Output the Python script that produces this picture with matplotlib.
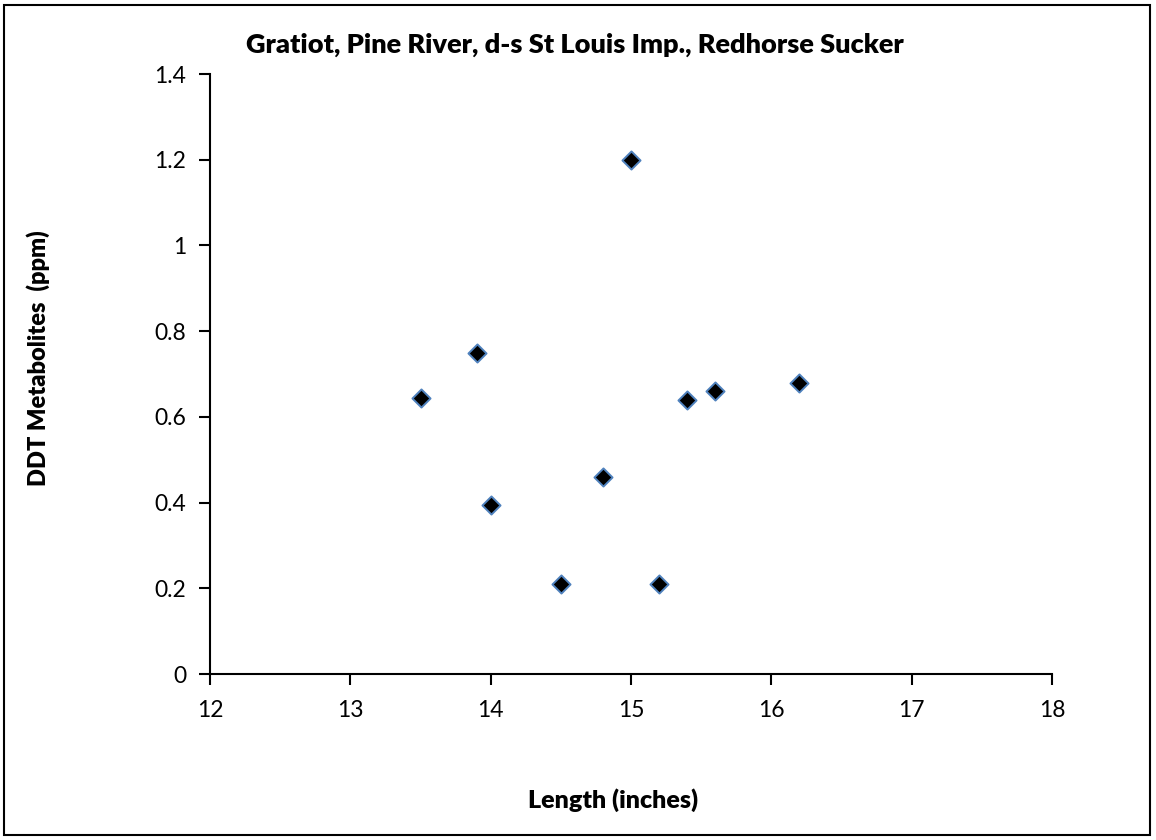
import matplotlib.pyplot as plt
from matplotlib.patches import Rectangle

length = [13.5, 13.9, 14.0, 14.5, 14.8, 15.0, 15.2, 15.4, 15.6, 16.2]
ddt = [0.645, 0.75, 0.395, 0.21, 0.46, 1.2, 0.21, 0.64, 0.66, 0.68]

x_ticks = [12, 13, 14, 15, 16, 17, 18]
y_ticks = [0, 0.2, 0.4, 0.6, 0.8, 1.0, 1.2, 1.4]
y_labels = ['0', '0.2', '0.4', '0.6', '0.8', '1', '1.2', '1.4']

plt.rcParams['font.family'] = ['Lato', 'DejaVu Sans']

fig = plt.figure(figsize=(11.56, 8.40), dpi=100)
ax = fig.add_axes([0.1817, 0.1976, 0.7284, 0.7143])

ax.scatter(length, ddt, marker='D', s=85, color='black',
           edgecolors='#4f81bd', linewidths=1.4, zorder=3)

ax.set_xlim(12, 18)
ax.set_ylim(0, 1.4)
ax.set_xticks(x_ticks)
ax.set_yticks(y_ticks)
ax.set_yticklabels(y_labels)
ax.tick_params(direction='out', length=8, width=1.5, labelsize=16.5, pad=11)
ax.tick_params(axis='y', pad=9)

for side in ['top', 'right']:
    ax.spines[side].set_visible(False)
for side in ['left', 'bottom']:
    ax.spines[side].set_linewidth(1.5)

fig.text(575 / 1156, 1 - 45 / 840,
         'Gratiot, Pine River, d-s St Louis Imp., Redhorse Sucker',
         fontsize=19.5, fontweight='heavy', ha='center', va='center')
fig.text(613 / 1156, 1 - 800 / 840, 'Length (inches)',
         fontsize=18, fontweight='heavy', ha='center', va='center')
fig.text(38 / 1156, 1 - 358 / 840, 'DDT Metabolites  (ppm)',
         fontsize=17, fontweight='heavy', ha='center', va='center', rotation=90)

fig.patches.append(Rectangle((4 / 1156, 5 / 840), 1146 / 1156, 830 / 840,
                             transform=fig.transFigure, fill=False,
                             edgecolor='black', linewidth=1.5))

fig.savefig('out.png', dpi=100)
